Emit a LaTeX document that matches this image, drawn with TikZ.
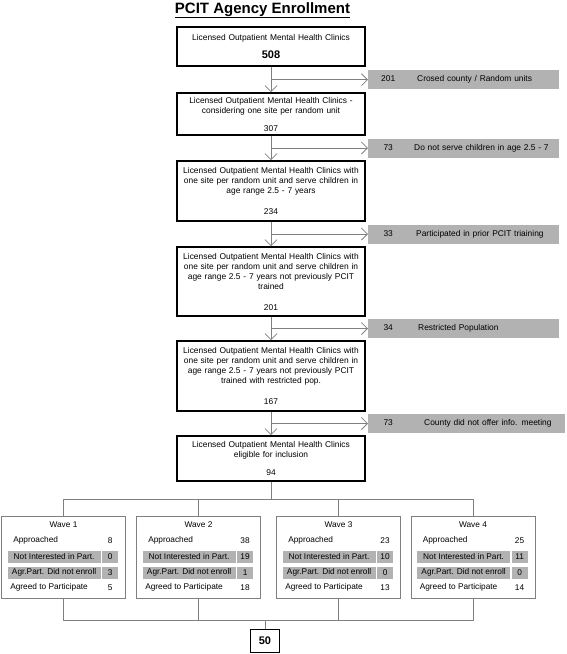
\documentclass[tikz,border=0pt]{standalone}
\usepackage{fontspec}
\setmainfont{Liberation Sans}
\usetikzlibrary{calc}
\usetikzlibrary{positioning}
\usetikzlibrary{arrows.meta}
\tikzstyle{mainnode} = [draw, line width=1.6pt, minimum width=188pt, text width=182pt, align=center, inner sep=0pt, font=\fontsize{8.4}{10}\selectfont]
\tikzstyle{exclnode} = [fill=gray!60, anchor=west, minimum height=19pt, text width=191pt, align=left, inner sep=0pt, font=\fontsize{8.4}{10}\selectfont]
\tikzstyle{wavenode} = [draw=gray, line width=0.8pt, minimum width=124pt, minimum height=82pt, inner sep=0pt]
\tikzstyle{cellnode} = [inner sep=0pt, font=\fontsize{8.3}{10}\selectfont]
\tikzstyle{greycell} = [cellnode, fill=gray!60, minimum height=12pt]
\tikzstyle{flow} = [gray, line width=0.8pt, -{Straight Barb[length=6pt,width=12pt]}]
\tikzstyle{link} = [gray, line width=0.8pt]

\begin{document}
\begin{tikzpicture}[x=1pt, y=1pt]
    \useasboundingbox (0,0) rectangle (567,-654);
    \node[font=\fontsize{15}{18}\selectfont\bfseries, anchor=base] (title) at (262.5,-13)
{\underline{PCIT Agency Enrollment}};

    % screening chain
    \node[mainnode, line width=2.2pt, minimum height=39pt] (clin_all) at (271,-46.5)
{Licensed Outpatient Mental Health Clinics\\[8pt]{\fontsize{11}{13}\selectfont\bfseries 508}};
    \node[mainnode, minimum height=42pt] (clin_unit) at ($(clin_all)+(0,-67.5)$)
{Licensed Outpatient Mental Health Clinics -\\considering one site per random unit\\[8pt]307};
    \node[mainnode, minimum height=60pt] (clin_age) at ($(clin_unit)+(0,-77)$)
{Licensed Outpatient Mental Health Clinics with\\one site per random unit and serve children in\\age range 2.5 - 7 years\\[11pt]234};
    \node[mainnode, minimum height=69pt] (clin_train) at ($(clin_age)+(0,-90.5)$)
{Licensed Outpatient Mental Health Clinics with\\one site per random unit and serve children in\\age range 2.5 - 7 years not previously PCIT\\trained\\[11pt]201};
    \node[mainnode, minimum height=70pt] (clin_pop) at ($(clin_train)+(0,-94.5)$)
{Licensed Outpatient Mental Health Clinics with\\one site per random unit and serve children in\\age range 2.5 - 7 years not previously PCIT\\trained with restricted pop.\\[11pt]167};
    \node[mainnode, minimum height=45pt] (clin_elig) at ($(clin_pop)+(0,-82.5)$)
{Licensed Outpatient Mental Health Clinics\\eligible for inclusion\\[8pt]94};

    \coordinate (split_one) at ($(clin_all.south)!0.5!(clin_unit.north)$);
    \coordinate (split_two) at ($(clin_unit.south)!0.5!(clin_age.north)$);
    \coordinate (split_three) at ($(clin_age.south)!0.5!(clin_train.north)$);
    \coordinate (split_four) at ($(clin_train.south)!0.5!(clin_pop.north)$);
    \coordinate (split_five) at ($(clin_pop.south)!0.5!(clin_elig.north)$);

    \node[exclnode] (excl_units) at ($(split_one)+(97,0)$)
{\makebox[40pt]{201}\hspace{9pt}Crosed county / Random units};
    \node[exclnode] (excl_age) at ($(split_two)+(97,0)$)
{\makebox[40pt]{73}\hspace{6pt}Do not serve children in age 2.5 - 7};
    \node[exclnode] (excl_train) at ($(split_three)+(97,0)$)
{\makebox[40pt]{33}\hspace{8pt}Participated in prior PCIT triaining};
    \node[exclnode] (excl_pop) at ($(split_four)+(97,0)$)
{\makebox[40pt]{34}\hspace{10pt}Restricted Population};
    \node[exclnode, text width=197pt] (excl_meet) at ($(split_five)+(97,0)$)
{\makebox[40pt]{73}\hspace{16pt}County did not offer info. meeting};

    \draw[flow] (clin_all.south) -- (clin_unit.north);
    \draw[flow] (clin_unit.south) -- (clin_age.north);
    \draw[flow] (clin_age.south) -- (clin_train.north);
    \draw[flow] (clin_train.south) -- (clin_pop.north);
    \draw[flow] (clin_pop.south) -- (clin_elig.north);
    \draw[flow] (split_one) -- (excl_units.west);
    \draw[flow] (split_two) -- (excl_age.west);
    \draw[flow] (split_three) -- (excl_train.west);
    \draw[flow] (split_four) -- (excl_pop.west);
    \draw[flow] (split_five) -- (excl_meet.west);

    % waves
    \node[wavenode] (wave_one) at (63.5,-557) {};
    \node[wavenode] (wave_two) at ($(wave_one)+(135,0)$) {};
    \node[wavenode] (wave_three) at ($(wave_two)+(140,0)$) {};
    \node[wavenode] (wave_four) at ($(wave_three)+(134.5,0)$) {};

    \node[cellnode] (w1_title) at ($(wave_one.north)+(0,-9)$) {Wave 1};
    \node[cellnode, anchor=west] (w1_appr) at ($(wave_one.north west)+(12,-25)$) {Approached};
    \node[cellnode] (w1_appr_n) at ($(wave_one.north west)+(109,-25)$) {8};
    \node[greycell, minimum width=93pt] (w1_noint) at ($(wave_one.north west)+(53,-41)$) {Not Interested in Part.};
    \node[greycell, minimum width=16pt] (w1_noint_n) at ($(wave_one.north west)+(109,-41)$) {0};
    \node[greycell, minimum width=93pt] (w1_noenr) at ($(wave_one.north west)+(53,-57)$) {Agr.Part. Did not enroll};
    \node[greycell, minimum width=16pt] (w1_noenr_n) at ($(wave_one.north west)+(109,-57)$) {3};
    \node[cellnode, anchor=west] (w1_agr) at ($(wave_one.north west)+(9,-72)$) {Agreed to Participate};
    \node[cellnode] (w1_agr_n) at ($(wave_one.north west)+(109,-72)$) {5};

    \node[cellnode] (w2_title) at ($(wave_two.north)+(0,-9)$) {Wave 2};
    \node[cellnode, anchor=west] (w2_appr) at ($(wave_two.north west)+(12,-25)$) {Approached};
    \node[cellnode] (w2_appr_n) at ($(wave_two.north west)+(109,-25)$) {38};
    \node[greycell, minimum width=93pt] (w2_noint) at ($(wave_two.north west)+(53,-41)$) {Not Interested in Part.};
    \node[greycell, minimum width=16pt] (w2_noint_n) at ($(wave_two.north west)+(109,-41)$) {19};
    \node[greycell, minimum width=93pt] (w2_noenr) at ($(wave_two.north west)+(53,-57)$) {Agr.Part. Did not enroll};
    \node[greycell, minimum width=16pt] (w2_noenr_n) at ($(wave_two.north west)+(109,-57)$) {1};
    \node[cellnode, anchor=west] (w2_agr) at ($(wave_two.north west)+(9,-72)$) {Agreed to Participate};
    \node[cellnode] (w2_agr_n) at ($(wave_two.north west)+(109,-72)$) {18};

    \node[cellnode] (w3_title) at ($(wave_three.north)+(0,-9)$) {Wave 3};
    \node[cellnode, anchor=west] (w3_appr) at ($(wave_three.north west)+(12,-25)$) {Approached};
    \node[cellnode] (w3_appr_n) at ($(wave_three.north west)+(109,-25)$) {23};
    \node[greycell, minimum width=93pt] (w3_noint) at ($(wave_three.north west)+(53,-41)$) {Not Interested in Part.};
    \node[greycell, minimum width=16pt] (w3_noint_n) at ($(wave_three.north west)+(109,-41)$) {10};
    \node[greycell, minimum width=93pt] (w3_noenr) at ($(wave_three.north west)+(53,-57)$) {Agr.Part. Did not enroll};
    \node[greycell, minimum width=16pt] (w3_noenr_n) at ($(wave_three.north west)+(109,-57)$) {0};
    \node[cellnode, anchor=west] (w3_agr) at ($(wave_three.north west)+(9,-72)$) {Agreed to Participate};
    \node[cellnode] (w3_agr_n) at ($(wave_three.north west)+(109,-72)$) {13};

    \node[cellnode] (w4_title) at ($(wave_four.north)+(0,-9)$) {Wave 4};
    \node[cellnode, anchor=west] (w4_appr) at ($(wave_four.north west)+(12,-25)$) {Approached};
    \node[cellnode] (w4_appr_n) at ($(wave_four.north west)+(109,-25)$) {25};
    \node[greycell, minimum width=93pt] (w4_noint) at ($(wave_four.north west)+(53,-41)$) {Not Interested in Part.};
    \node[greycell, minimum width=16pt] (w4_noint_n) at ($(wave_four.north west)+(109,-41)$) {11};
    \node[greycell, minimum width=93pt] (w4_noenr) at ($(wave_four.north west)+(53,-57)$) {Agr.Part. Did not enroll};
    \node[greycell, minimum width=16pt] (w4_noenr_n) at ($(wave_four.north west)+(109,-57)$) {0};
    \node[cellnode, anchor=west] (w4_agr) at ($(wave_four.north west)+(9,-72)$) {Agreed to Participate};
    \node[cellnode] (w4_agr_n) at ($(wave_four.north west)+(109,-72)$) {14};

    \node[draw, line width=0.8pt, minimum width=29pt, minimum height=23pt, inner sep=0pt,
font=\fontsize{11}{13}\selectfont\bfseries] (total) at ($(clin_elig)+(-6,-182)$) {50};

    \coordinate (bus_top) at ($(clin_elig.south)+(0,-18)$);
    \coordinate (bus_bot) at ($(total.north)+(0,8)$);
    \draw[link] (clin_elig.south) -- (bus_top);
    \draw[link] (wave_one.north) |- (bus_top);
    \draw[link] (wave_four.north) |- (bus_top);
    \draw[link] (wave_two.north) -- (wave_two.north |- bus_top);
    \draw[link] (wave_three.north) -- (wave_three.north |- bus_top);
    \draw[link] (wave_one.south) |- (bus_bot);
    \draw[link] (wave_four.south) |- (bus_bot);
    \draw[link] (wave_two.south) -- (wave_two.south |- bus_bot);
    \draw[link] (wave_three.south) -- (wave_three.south |- bus_bot);
    \draw[link] (bus_bot) -- (total.north);
\end{tikzpicture}
\end{document}
